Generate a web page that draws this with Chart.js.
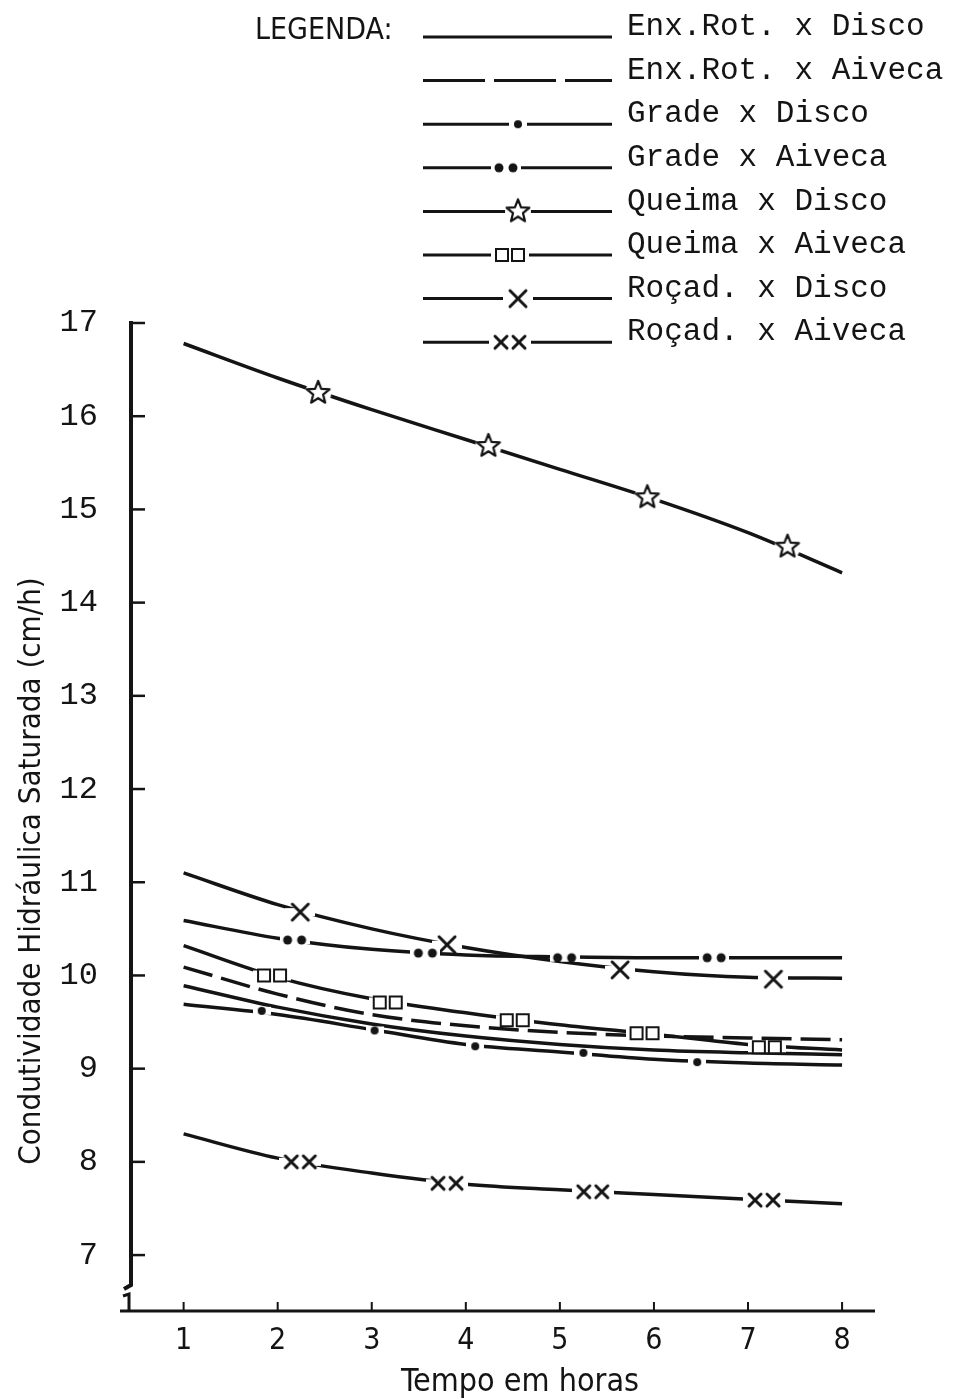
<!DOCTYPE html>
<html>
<head>
<meta charset="utf-8">
<script src="https://cdn.jsdelivr.net/npm/chart.js@4.4.1/dist/chart.umd.min.js"></script>
<style>
  html, body { margin: 0; padding: 0; background: #fff; }
  #chart { display: block; }
</style>
</head>
<body>
<canvas id="chart" width="954" height="1398"></canvas>
<script>
/* =========================
   DATA
========================= */

const hours = [1, 2, 3, 4, 5, 6, 7, 8];
const xTickLabels = ["1", "2", "3", "4", "5", "6", "7", "8"];
const yTickLabels = ["7", "8", "9", "10", "11", "12", "13", "14", "15", "16", "17"];

const seriesNames = [
    "Enx.Rot. x Disco",
    "Enx.Rot. x Aiveca",
    "Grade x Disco",
    "Grade x Aiveca",
    "Queima x Disco",
    "Queima x Aiveca",
    "Roçad. x Disco",
    "Roçad. x Aiveca"
];

const enxRotDisco   = [9.89, 9.66, 9.48, 9.35, 9.26, 9.20, 9.17, 9.15];
const enxRotAiveca  = [10.09, 9.80, 9.58, 9.46, 9.39, 9.35, 9.33, 9.31];
const gradeDisco    = [9.69, 9.58, 9.42, 9.26, 9.18, 9.10, 9.06, 9.04];
const gradeAiveca   = [10.59, 10.40, 10.28, 10.22, 10.20, 10.19, 10.19, 10.19];
const queimaDisco   = [16.78, 16.41, 16.07, 15.75, 15.43, 15.11, 14.75, 14.32];
const queimaAiveca  = [10.32, 9.98, 9.75, 9.60, 9.47, 9.37, 9.26, 9.20];
const rocadDisco    = [11.10, 10.76, 10.50, 10.30, 10.15, 10.04, 9.98, 9.97];
const rocadAiveca   = [8.30, 8.04, 7.88, 7.76, 7.70, 7.65, 7.60, 7.55];

/* marker positions (hours, cm/h) */
const gradeDiscoMarksX   = [1.83, 3.03, 4.10, 5.25, 6.46];
const gradeDiscoMarksY   = [9.62, 9.41, 9.24, 9.17, 9.07];
const gradeAivecaMarksX  = [2.18, 3.57, 5.05, 6.64];
const gradeAivecaMarksY  = [10.38, 10.24, 10.19, 10.19];
const queimaDiscoMarksX  = [2.43, 4.24, 5.93, 7.42];
const queimaDiscoMarksY  = [16.25, 15.68, 15.13, 14.60];
const queimaAivecaMarksX = [1.94, 3.17, 4.52, 5.90, 7.20];
const queimaAivecaMarksY = [10.00, 9.71, 9.52, 9.38, 9.23];
const rocadDiscoMarksX   = [2.24, 3.80, 5.64, 7.27];
const rocadDiscoMarksY   = [10.68, 10.33, 10.06, 9.96];
const rocadAivecaMarksX  = [2.24, 3.80, 5.35, 7.17];
const rocadAivecaMarksY  = [8.00, 7.77, 7.68, 7.59];

/* =========================
   STYLE
========================= */

const ink = "#141414";
const narrow = "'Liberation Sans Narrow', 'DejaVu Sans Condensed', 'Liberation Sans', sans-serif";
const mono = "'Liberation Mono', 'DejaVu Sans Mono', monospace";

/* =========================
   MARKER GLYPHS
========================= */

function makeMark(w, h, draw) {
    let c = document.createElement("canvas");
    c.width = w;
    c.height = h;
    let g = c.getContext("2d");
    g.strokeStyle = ink;
    g.fillStyle = ink;
    g.lineCap = "round";
    draw(g, w, h);
    return c;
}

function whiteBand(g, w, h, bh) {
    g.save();
    g.fillStyle = "#fff";
    g.fillRect(0, (h - bh) / 2, w, bh);
    g.restore();
}

function cross(g, cx, cy, r) {
    g.lineWidth = 3;
    g.beginPath();
    g.moveTo(cx - r, cy - r); g.lineTo(cx + r, cy + r);
    g.moveTo(cx + r, cy - r); g.lineTo(cx - r, cy + r);
    g.stroke();
}

const dotMark = makeMark(18, 12, (g, w, h) => {
    whiteBand(g, w, h, 8);
    g.beginPath(); g.arc(w / 2, h / 2, 4, 0, Math.PI * 2); g.fill();
});

const dotsMark = makeMark(30, 14, (g, w, h) => {
    whiteBand(g, w, h, 8);
    [w / 2 - 7, w / 2 + 7].forEach(cx => {
        g.beginPath(); g.arc(cx, h / 2, 4.5, 0, Math.PI * 2); g.fill();
    });
});

const starMark = makeMark(30, 30, (g, w, h) => {
    g.save();
    g.fillStyle = "#fff";
    g.beginPath(); g.arc(w / 2, h / 2, 13, 0, Math.PI * 2); g.fill();
    g.restore();
    g.beginPath();
    for (let i = 0; i < 10; i++) {
        let r = i % 2 === 0 ? 12 : 5.2;
        let a = -Math.PI / 2 + i * Math.PI / 5;
        let px = w / 2 + r * Math.cos(a), py = h / 2 + r * Math.sin(a);
        i === 0 ? g.moveTo(px, py) : g.lineTo(px, py);
    }
    g.closePath();
    g.lineWidth = 2.2;
    g.lineJoin = "round";
    g.stroke();
});

const squaresMark = makeMark(38, 18, (g, w, h) => {
    whiteBand(g, w, h, 10);
    g.lineWidth = 2;
    [w / 2 - 8, w / 2 + 8].forEach(cx => {
        g.strokeRect(cx - 6, h / 2 - 6, 12, 12);
    });
});

const crossMark = makeMark(30, 24, (g, w, h) => {
    whiteBand(g, w, h, 8);
    cross(g, w / 2, h / 2, 8);
});

const crossesMark = makeMark(42, 20, (g, w, h) => {
    whiteBand(g, w, h, 8);
    cross(g, w / 2 - 9, h / 2, 6);
    cross(g, w / 2 + 9, h / 2, 6);
});

/* =========================
   DATASETS
========================= */

function pairs(xs, ys) {
    return xs.map((x, i) => ({ x: x, y: ys[i] }));
}

function curve(label, values, dash) {
    return {
        label: label,
        data: hours.map((h, i) => ({ x: h, y: values[i] })),
        borderColor: ink,
        borderWidth: 3.5,
        borderDash: dash || [],
        pointRadius: 0,
        cubicInterpolationMode: "monotone",
        fill: false,
        order: 2
    };
}

function marks(label, xs, ys, glyph) {
    return {
        label: label,
        data: pairs(xs, ys),
        showLine: false,
        pointStyle: glyph,
        pointRadius: 5,
        order: 1
    };
}

const lineSets = [
    curve(seriesNames[0], enxRotDisco),
    curve(seriesNames[1], enxRotAiveca, [30, 9]),
    curve(seriesNames[2], gradeDisco),
    curve(seriesNames[3], gradeAiveca),
    curve(seriesNames[4], queimaDisco),
    curve(seriesNames[5], queimaAiveca),
    curve(seriesNames[6], rocadDisco),
    curve(seriesNames[7], rocadAiveca)
];

const markSets = [
    marks(seriesNames[2], gradeDiscoMarksX, gradeDiscoMarksY, dotMark),
    marks(seriesNames[3], gradeAivecaMarksX, gradeAivecaMarksY, dotsMark),
    marks(seriesNames[4], queimaDiscoMarksX, queimaDiscoMarksY, starMark),
    marks(seriesNames[5], queimaAivecaMarksX, queimaAivecaMarksY, squaresMark),
    marks(seriesNames[6], rocadDiscoMarksX, rocadDiscoMarksY, crossMark),
    marks(seriesNames[7], rocadAivecaMarksX, rocadAivecaMarksY, crossesMark)
];

/* legend samples: glyph and where it sits on the 423..612 line */
const legendGlyphs = [null, null, dotMark, dotsMark, starMark, squaresMark, crossMark, crossesMark];
const legendGlyphX = [0, 0, 518, 506, 518, 510, 518, 510];

/* =========================
   AXES, TITLES, LEGEND
========================= */

const decor = {
    id: "decor",
    afterDraw(chart) {
        const { ctx, chartArea: a, scales } = chart;
        const x = scales.x, y = scales.y;
        ctx.save();
        ctx.strokeStyle = ink;
        ctx.fillStyle = ink;
        ctx.lineCap = "butt";

        /* y axis with break near the bottom */
        ctx.lineWidth = 4;
        ctx.beginPath();
        ctx.moveTo(a.left + 1, a.top - 2);
        ctx.lineTo(a.left + 1, a.bottom - 26);
        ctx.lineTo(a.left - 6, a.bottom - 22);
        ctx.stroke();
        ctx.lineWidth = 3;
        ctx.beginPath();
        ctx.moveTo(a.left - 7, a.bottom - 15);
        ctx.lineTo(a.left - 1, a.bottom - 17);
        ctx.lineTo(a.left - 1, a.bottom);
        ctx.stroke();

        /* x axis */
        ctx.lineWidth = 3;
        ctx.beginPath();
        ctx.moveTo(a.left - 10, a.bottom);
        ctx.lineTo(a.right, a.bottom);
        ctx.stroke();

        /* inner tick marks */
        ctx.lineWidth = 2.5;
        y.ticks.forEach(t => {
            let py = y.getPixelForValue(t.value);
            ctx.beginPath(); ctx.moveTo(a.left, py); ctx.lineTo(a.left + 15, py); ctx.stroke();
        });
        ctx.lineWidth = 2;
        x.ticks.forEach(t => {
            let px = x.getPixelForValue(t.value);
            ctx.beginPath(); ctx.moveTo(px, a.bottom); ctx.lineTo(px, a.bottom - 9); ctx.stroke();
        });

        /* axis titles */
        ctx.textAlign = "center";
        ctx.textBaseline = "middle";
        ctx.font = "32px " + narrow;
        ctx.fillText("Tempo em horas", 520, 1383);
        ctx.save();
        ctx.translate(32, 871);
        ctx.rotate(-Math.PI / 2);
        ctx.font = "31px " + narrow;
        ctx.fillText("Condutividade Hidráulica Saturada (cm/h)", 0, 0);
        ctx.restore();

        /* legend */
        ctx.textAlign = "left";
        ctx.font = "30px " + narrow;
        ctx.fillText("LEGENDA:", 255, 31);
        ctx.font = "31px " + mono;
        lineSets.forEach((ds, i) => {
            let ly = 37 + i * 43.6;
            ctx.lineWidth = 3;
            ctx.setLineDash(i === 1 ? [62, 9] : []);
            ctx.beginPath(); ctx.moveTo(423, ly); ctx.lineTo(612, ly); ctx.stroke();
            ctx.setLineDash([]);
            let glyph = legendGlyphs[i];
            if (glyph) {
                ctx.drawImage(glyph, legendGlyphX[i] - glyph.width / 2, ly - glyph.height / 2);
            }
            ctx.fillText(ds.label, 627, ly - 10);
        });

        ctx.restore();
    }
};

/* =========================
   CHART
========================= */

new Chart(document.getElementById("chart"), {
    type: "line",
    data: { datasets: markSets.concat(lineSets) },
    options: {
        responsive: false,
        animation: false,
        devicePixelRatio: 1,
        layout: { padding: { top: 323, right: 79, left: 0, bottom: 0 } },
        plugins: {
            legend: { display: false },
            tooltip: { enabled: false }
        },
        scales: {
            x: {
                type: "linear",
                min: 0.43,
                max: 8.35,
                afterBuildTicks: s => { s.ticks = hours.map(v => ({ value: v })); },
                afterFit: s => { s.height = 87; },
                grid: { display: false, drawTicks: false },
                border: { display: false },
                ticks: {
                    color: ink,
                    padding: 12,
                    font: { family: narrow, size: 30 },
                    callback: (v, i) => xTickLabels[i]
                }
            },
            y: {
                type: "linear",
                min: 6.4,
                max: 17,
                afterBuildTicks: s => { s.ticks = yTickLabels.map(v => ({ value: Number(v) })); },
                afterFit: s => { s.width = 130; },
                grid: { display: false, drawTicks: false },
                border: { display: false },
                ticks: {
                    color: ink,
                    padding: 32,
                    font: { family: mono, size: 32 },
                    callback: (v, i) => yTickLabels[i]
                }
            }
        }
    },
    plugins: [decor]
});
</script>
</body>
</html>
